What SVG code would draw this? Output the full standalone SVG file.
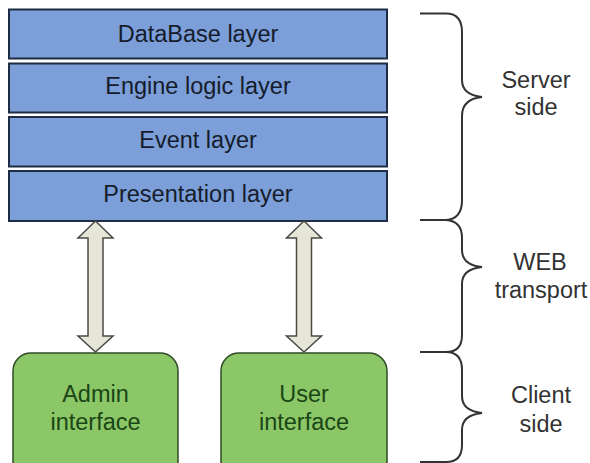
<svg xmlns="http://www.w3.org/2000/svg" width="590" height="463" viewBox="0 0 590 463">
<style>
.layer{fill:#7c9fd9;stroke:#1f2d44;stroke-width:2}
.client{fill:#8cc767;stroke:#2f4a26;stroke-width:1.5}
.arrow{fill:#e6e6d8;stroke:#4a4a44;stroke-width:1.5;stroke-linejoin:miter}
.brace{fill:none;stroke:#333;stroke-width:2}
text{font-family:"Liberation Sans",Arial,sans-serif;font-size:23.5px;text-anchor:middle}
.lt{fill:#151c2b}
.ct{fill:#1a4516}
.st{fill:#333}
</style>
<rect width="590" height="463" fill="#fff"/>
<g id="database-layer"><rect class="layer" x="9" y="9.5" width="378" height="49"/><text class="lt" x="198" y="42">DataBase layer</text></g>
<g id="engine-logic-layer"><rect class="layer" x="9" y="63.5" width="378" height="49"/><text class="lt" x="198" y="94">Engine logic layer</text></g>
<g id="event-layer"><rect class="layer" x="9" y="117" width="378" height="49.5"/><text class="lt" x="198" y="148">Event layer</text></g>
<g id="presentation-layer"><rect class="layer" x="9" y="171" width="378" height="50"/><text class="lt" x="198" y="202">Presentation layer</text></g>
<g id="admin-interface"><rect class="client" x="13" y="353" width="165" height="130" rx="18"/><text class="ct" x="95.5" y="402">Admin</text><text class="ct" x="95.5" y="430">interface</text></g>
<g id="user-interface"><rect class="client" x="221" y="353" width="166" height="130" rx="18"/><text class="ct" x="304" y="402">User</text><text class="ct" x="304" y="430">interface</text></g>
<g id="connectors">
<path class="arrow" d="M95.5,221 L113,238 L103,238 L103,336 L113,336 L95.5,352 L78,336 L88,336 L88,238 L78,238 Z"/>
<path class="arrow" d="M304,221 L321.5,238 L311.5,238 L311.5,336 L321.5,336 L304,352 L286.5,336 L296.5,336 L296.5,238 L286.5,238 Z"/>
</g>
<g id="braces">
<path class="brace" d="M420,13.5 L446,13.5 Q462,13.5 462,32 L462,80 Q462,95 482,97 Q462,99 462,116 L462,200 Q462,219 446,220 L420,220"/>
<path class="brace" d="M446,220 Q462,221 462,238 L462,250 Q462,265 482,267 Q462,269 462,284 L462,335 Q462,352 446,352 L420,352"/>
<path class="brace" d="M446,352 Q462,352 462,370 L462,396 Q462,411 482,413 Q462,415 462,430 L462,445 Q462,462 446,462 L420,462"/>
</g>
<g id="labels">
<text class="st" x="536" y="88">Server</text><text class="st" x="536" y="115">side</text>
<text class="st" x="540" y="270">WEB</text><text class="st" x="541" y="298">transport</text>
<text class="st" x="541" y="403">Client</text><text class="st" x="541" y="432">side</text>
</g>
</svg>
